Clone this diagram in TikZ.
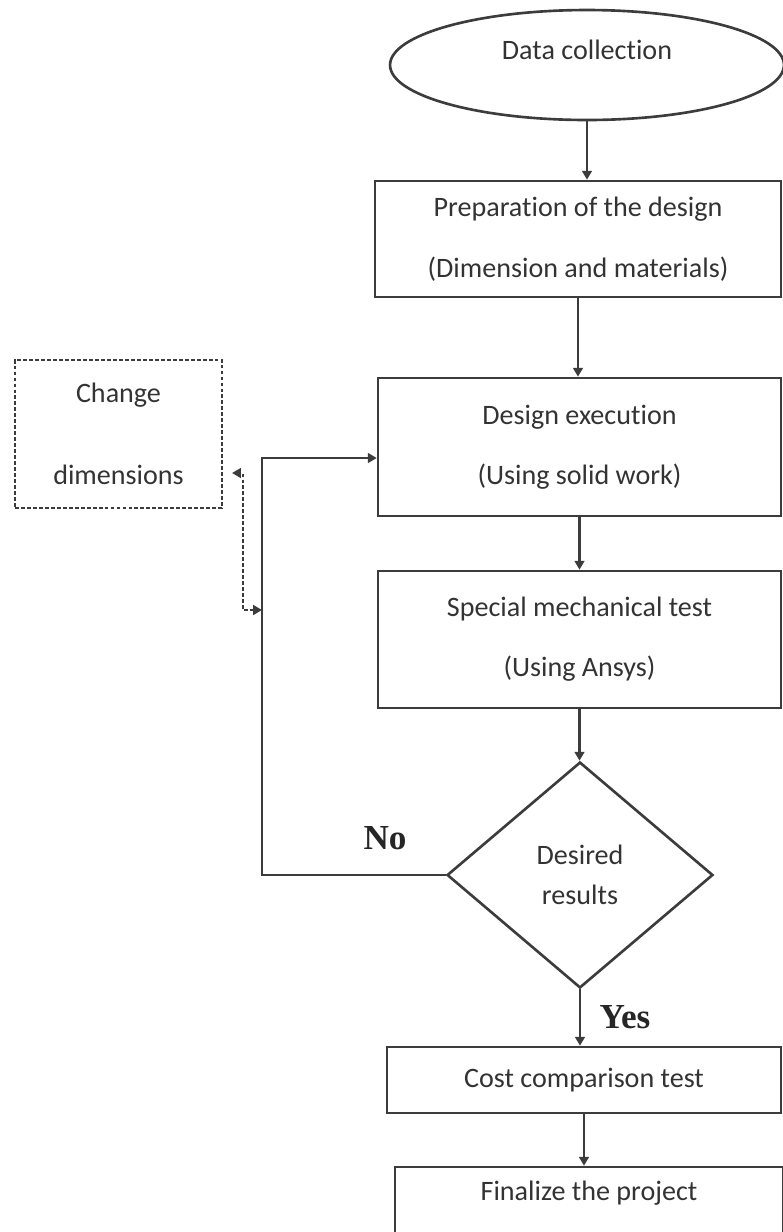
\documentclass[tikz,border=0pt]{standalone}
\usepackage{fontspec}
\setmainfont{Carlito}[Ligatures=CommonOff]
\newfontfamily\labfont{Liberation Serif}
\usetikzlibrary{arrows.meta,shapes.geometric}
\definecolor{flowline}{HTML}{3C3C3C}
\definecolor{flowtext}{HTML}{333333}

\begin{document}
\begin{tikzpicture}[x=0.02cm, y=-0.02cm, >={Triangle[length=5pt,width=5.5pt]},
    flowbox/.style={draw=flowline, line width=1.5pt, align=center, text=flowtext,
                    font=\fontsize{16}{19}\selectfont, inner sep=2pt},
    dashbox/.style={flowbox, dash pattern=on 2.2pt off 1.2pt},
    yesno/.style={font=\labfont\bfseries\fontsize{20}{24}\selectfont, text=black!85}]

    \useasboundingbox (0,0) rectangle (783,1232);

    % ── Start ────────────────────────────────────────────────────────────────
    \node[flowbox, ellipse, minimum width=7.88cm, minimum height=2.2cm,
          text depth=17pt] (data) at (587,65) {Data collection};

    % ── Process boxes ────────────────────────────────────────────────────────
    \node[flowbox, minimum width=8.12cm, minimum height=2.32cm] (prep) at (578,239)
        {Preparation of the design\\[16pt](Dimension and materials)};
    \node[flowbox, minimum width=8.06cm, minimum height=2.76cm] (design) at (579.5,447)
        {Design execution\\[15pt](Using solid work)};
    \node[flowbox, minimum width=8.06cm, minimum height=2.74cm] (mech) at (579.5,639.5)
        {Special mechanical test\\[15pt](Using Ansys)};

    % ── Decision ─────────────────────────────────────────────────────────────
    \node[flowbox, diamond, aspect=1.18, minimum width=5.32cm, minimum height=4.52cm,
          inner sep=0pt] (check) at (580,875) {Desired\\[4pt]results};

    % ── Final steps ──────────────────────────────────────────────────────────
    \node[flowbox, minimum width=7.88cm, minimum height=1.32cm] (cost) at (584,1080)
        {Cost comparison test};
    \node[flowbox, minimum width=7.76cm, minimum height=2.0cm, text depth=30pt]
        (final) at (589,1217) {Finalize the project};

    % ── Side box (dashed) ────────────────────────────────────────────────────
    \node[dashbox, minimum width=4.14cm, minimum height=2.96cm] (change) at (118.5,434)
        {Change\\[28pt]dimensions};

    % ── Main flow ────────────────────────────────────────────────────────────
    \draw[flowline, line width=1.5pt, ->] (data.south) -- (data.south |- prep.north);
    \draw[flowline, line width=1.5pt, ->] (prep.south) -- (prep.south |- design.north);
    \draw[flowline, line width=1.5pt, ->] (design.south) -- (design.south |- mech.north);
    \draw[flowline, line width=1.5pt, ->] (mech.south) -- (mech.south |- check.north);
    \draw[flowline, line width=1.5pt, ->] (check.south) -- (check.south |- cost.north);
    \draw[flowline, line width=1.5pt, ->] (cost.south) -- (cost.south |- final.north);

    % ── "No" loop back to design execution ───────────────────────────────────
    \coordinate (loopx) at (262,0);
    \draw[flowline, line width=1.5pt, ->]
        (check.west) -- (check.west -| loopx) |- ([yshift=-0.22cm]design.west);
    \node[yesno] (no) at (385,838) {No};
    \node[yesno] (yes) at (625,1017) {Yes};

    % ── Dashed link to the change box ────────────────────────────────────────
    \coordinate (tap) at (262,610);
    \coordinate (kink) at (243,610);
    \draw[flowline, line width=1.4pt, dash pattern=on 2.2pt off 1.2pt, <->, shorten >=5pt]
        (tap) -- (kink) |- ([yshift=-0.78cm]change.east);

\end{tikzpicture}
\end{document}
